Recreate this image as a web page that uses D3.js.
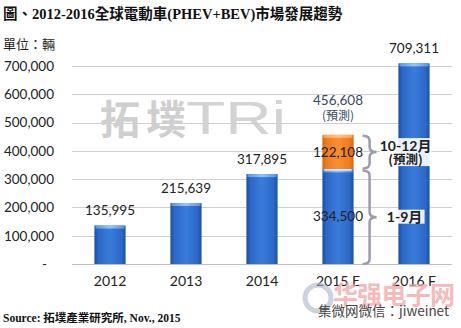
<!DOCTYPE html>
<html><head><meta charset="utf-8">
<script src="https://cdn.jsdelivr.net/npm/d3@7/dist/d3.min.js"></script>
<style>
html,body{margin:0;padding:0;background:#fff;}
svg{display:block;}
</style></head>
<body>
<svg id="c" width="461" height="328"></svg>
<script>
const categories = ["2012","2013","2014","2015 E","2016 F"];
const baseValues = [135995, 215639, 317895, 334500, 709311];
const forecastValues = [0, 0, 0, 122108, 0];
const topLabels = ["135,995","215,639","317,895","456,608","709,311"];
const yTicks = [0,100000,200000,300000,400000,500000,600000,700000];
const yTickLabels = ["-","100,000","200,000","300,000","400,000","500,000","600,000","700,000"];
const title = "圖、2012-2016全球電動車(PHEV+BEV)市場發展趨勢";
const unitLabel = "單位：輛";
const sourceText = "Source: 拓墣產業研究所, Nov., 2015";

const svg = d3.select("#c");
const latin = "Lato, 'Noto Sans CJK TC', sans-serif";
const cjk = "'Noto Sans CJK TC', Lato, sans-serif";

const defs = svg.append("defs");
function hgrad(id, stops){
  const g = defs.append("linearGradient").attr("id",id).attr("x1","0").attr("x2","1").attr("y1","0").attr("y2","0");
  stops.forEach(s=>g.append("stop").attr("offset",s[0]).attr("stop-color",s[1]));
}
hgrad("blue",[[0,"#1a4c9e"],[0.12,"#2b67c6"],[0.5,"#3a7ddc"],[0.88,"#2b67c6"],[1,"#1b4fa3"]]);
hgrad("orange",[[0,"#d9620e"],[0.12,"#f07a1c"],[0.5,"#fa9031"],[0.88,"#f07a1c"],[1,"#d8640f"]]);
hgrad("bcap",[[0,"#5e93df"],[0.5,"#9cc4f5"],[1,"#5e93df"]]);
hgrad("ocap",[[0,"#f6a45e"],[0.5,"#fcc48c"],[1,"#f6a45e"]]);

const x = d3.scaleBand().domain(categories).range([72,452]).paddingInner(0.59).paddingOuter(0.295);
const y = d3.scaleLinear().domain([0,700000]).range([264,66]);

// title
svg.append("text").attr("x",3).attr("y",19)
  .attr("font-family","'Liberation Serif', 'Noto Sans CJK TC', serif").attr("font-weight","bold")
  .attr("font-size",14.5).attr("fill","#111").text(title);
svg.append("text").attr("x",3).attr("y",49).attr("font-family",cjk).attr("font-size",13).attr("fill","#222").text(unitLabel);

// watermark TRi
const wm = svg.append("g").attr("opacity",0.55);
wm.append("text").attr("x",100).attr("y",134).attr("font-family",cjk).attr("font-weight","bold")
  .attr("font-size",40).attr("fill","#a8a8a8").attr("textLength",86).text("拓墣");
wm.append("text").attr("x",186).attr("y",134).attr("font-family","'Liberation Sans', sans-serif")
  .attr("font-size",46).attr("fill","#b0b0b0").attr("textLength",100).attr("lengthAdjust","spacingAndGlyphs").text("TRi");

// gridlines
svg.append("g").selectAll("line").data(yTicks.slice(1)).join("line")
  .attr("x1",72).attr("x2",452).attr("y1",d=>Math.round(y(d))+0.5).attr("y2",d=>Math.round(y(d))+0.5)
  .attr("stroke","#cfcfcf").attr("stroke-width",1);

// y axis labels
const yAxis = d3.axisLeft(y).tickValues(yTicks).tickSize(0).tickPadding(0)
  .tickFormat((d,i)=>yTickLabels[i]);
const ya = svg.append("g").attr("transform","translate(54,0)").call(yAxis);
ya.select(".domain").remove();
ya.selectAll("text").attr("font-family",latin).attr("font-size",13.5).attr("fill","#222");
ya.selectAll(".tick").filter(d=>d===0).select("text").attr("dx",-7);

// bars
const bars = svg.append("g");
categories.forEach((c,i)=>{
  const bx = x(c), bw = x.bandwidth();
  const yb = y(baseValues[i]);
  bars.append("rect").attr("x",bx).attr("y",yb).attr("width",bw).attr("height",y(0)-yb).attr("fill","url(#blue)");
  bars.append("rect").attr("x",bx+1).attr("y",yb).attr("width",bw-2).attr("height",3).attr("fill","url(#bcap)");
  if(forecastValues[i]>0){
    const yt = y(baseValues[i]+forecastValues[i]);
    bars.append("rect").attr("x",bx).attr("y",yt).attr("width",bw).attr("height",yb-yt).attr("fill","url(#orange)");
    bars.append("rect").attr("x",bx+1).attr("y",yt).attr("width",bw-2).attr("height",3).attr("fill","url(#ocap)");
    bars.append("line").attr("x1",bx+2).attr("x2",bx+bw-2).attr("y1",yb+0.5).attr("y2",yb+0.5).attr("stroke","#e8f0fb").attr("stroke-width",1.5);
  }
});

// baseline
svg.append("line").attr("x1",72).attr("x2",452).attr("y1",264.5).attr("y2",264.5).attr("stroke","#bdbdbd");

// x labels
const xAxis = d3.axisBottom(x).tickSize(0).tickPadding(0);
const xa = svg.append("g").attr("transform","translate(0,276)").call(xAxis);
xa.select(".domain").remove();
xa.selectAll("text").attr("font-family",latin).attr("font-size",14).attr("fill","#222").attr("dy","0.7em");

// value labels
categories.forEach((c,i)=>{
  const cx = x(c)+x.bandwidth()/2;
  const total = baseValues[i]+forecastValues[i];
  if(forecastValues[i]>0){
    svg.append("text").attr("x",cx).attr("y",y(total)-35).attr("text-anchor","middle").attr("dy","0.35em")
      .attr("font-family",latin).attr("font-size",13.5).attr("fill","#3a4866").text(topLabels[i]);
    svg.append("text").attr("x",cx).attr("y",y(total)-19).attr("text-anchor","middle").attr("dy","0.35em")
      .attr("font-family",cjk).attr("font-size",12).attr("fill","#3a4866").text("(預測)");
    svg.append("text").attr("x",cx).attr("y",y(baseValues[i]+forecastValues[i]/2)).attr("text-anchor","middle").attr("dy","0.35em")
      .attr("font-family",latin).attr("font-size",13.5).attr("fill","#222").text(d3.format(",")(forecastValues[i]));
    svg.append("text").attr("x",cx).attr("y",y(baseValues[i]/2)).attr("text-anchor","middle").attr("dy","0.35em")
      .attr("font-family",latin).attr("font-size",13.5).attr("fill","#222").text(d3.format(",")(baseValues[i]));
    // braces
    const bx0 = x(c)+x.bandwidth()+9, bx1 = bx0+7, bx2 = bx0+14;
    function brace(y0,y1){
      const ym=(y0+y1)/2, r=5;
      return `M${bx0},${y0} Q${bx1},${y0} ${bx1},${y0+r} L${bx1},${ym-r} Q${bx1},${ym} ${bx2},${ym} Q${bx1},${ym} ${bx1},${ym+r} L${bx1},${y1-r} Q${bx1},${y1} ${bx0},${y1}`;
    }
    svg.append("path").attr("d",brace(y(total)+1,y(baseValues[i])-1)).attr("fill","none").attr("stroke","#9c9cae").attr("stroke-width",2.5);
    svg.append("path").attr("d",brace(y(baseValues[i])+1,y(0))).attr("fill","none").attr("stroke","#9c9cae").attr("stroke-width",2.5);
    const lx = bx2+29;
    const ym1 = (y(total)+y(baseValues[i]))/2, ym2 = (y(baseValues[i])+y(0))/2;
    svg.append("rect").attr("x",lx-26).attr("y",ym1-14).attr("width",52).attr("height",28).attr("fill","#fff").attr("opacity",0.9);
    svg.append("rect").attr("x",lx-21).attr("y",ym2-7).attr("width",40).attr("height",14).attr("fill","#fff").attr("opacity",0.9);
    svg.append("text").attr("x",lx).attr("y",ym1-6).attr("text-anchor","middle").attr("dy","0.35em")
      .attr("font-family",latin).attr("font-weight","bold").attr("font-size",14).attr("fill","#222").text("10-12月");
    svg.append("text").attr("x",lx).attr("y",ym1+8).attr("text-anchor","middle").attr("dy","0.35em")
      .attr("font-family",cjk).attr("font-weight","bold").attr("font-size",12.5).attr("fill","#222").text("(預測)");
    svg.append("text").attr("x",lx-1).attr("y",ym2).attr("text-anchor","middle").attr("dy","0.35em")
      .attr("font-family",latin).attr("font-weight","bold").attr("font-size",14).attr("fill","#222").text("1-9月");
  } else {
    svg.append("text").attr("x",cx).attr("y",y(total)-15).attr("text-anchor","middle").attr("dy","0.35em")
      .attr("font-family",latin).attr("font-size",13.5).attr("fill","#222").text(topLabels[i]);
  }
});

// other watermarks
svg.append("text").attr("x",333).attr("y",304).attr("font-family",cjk).attr("font-weight","bold")
  .attr("font-size",25).attr("fill","#f3a3a3").attr("opacity",0.75).attr("textLength",122).text("华强电子网");
svg.append("circle").attr("cx",318).attr("cy",298).attr("r",13).attr("fill","none").attr("stroke","#aab4c8").attr("stroke-width",5).attr("opacity",0.6);
svg.append("text").attr("x",318).attr("y",316).attr("font-family",cjk).attr("font-size",13.5).attr("fill","#444").text("集微网微信：jiweinet");

svg.append("text").attr("x",3).attr("y",322).attr("font-family","'Liberation Serif', 'Noto Sans CJK TC', serif").attr("font-weight","bold")
  .attr("font-size",11.5).attr("fill","#111").text(sourceText);
</script>
</body></html>
